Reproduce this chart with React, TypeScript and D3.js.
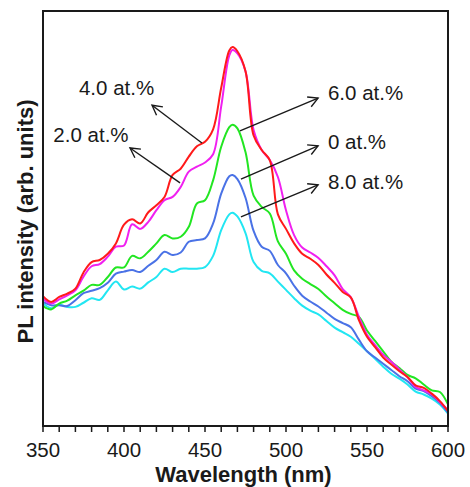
import React from "react";
import * as d3 from "d3";

const wavelengths = [350,355,360,365,370,375,380,385,390,395,400,405,410,415,420,425,430,435,440,445,450,455,460,465,467,470,475,480,485,490,495,500,505,510,515,520,525,530,535,540,545,550,555,560,565,570,575,580,585,590,595,600];

const s0 = [29.9,29.1,29.1,28.9,30.3,32,32.6,33.2,34.5,36.7,37.2,37.6,37.1,38.6,40,42,41.2,41.8,44.4,44.8,45.2,48.8,56,60.2,60.5,59.5,55,47,43.2,42.2,38.8,36.8,33.8,31.4,30,28.8,27.3,25.8,24.8,23.8,20.8,18,16.5,15,13.5,12,10.8,9,8.4,7.2,5.6,3.2];
const s2 = [30.7,29.5,30.5,31.5,32.7,36,38.5,39,40.8,43.2,43.5,48.6,47.5,49.2,52,54.4,55.2,57.6,61.3,62.5,63.5,65.5,77,89.3,90.6,89.8,85.5,71.3,66.5,64.1,60,52,46,43,41.8,40.5,38.5,36.3,33,31,26.3,22,19.5,17.2,15.5,13.6,11.8,9.4,8.6,7.6,5.8,3.8];
const s4 = [31.3,29.9,31.1,31.9,33.1,37,39.5,40,41.5,44,48.5,49.8,48.8,51.5,53.2,55.2,60.5,62,64.9,67.4,68.5,71.5,81.5,90.5,91.3,90.3,85.5,70,66.5,64,51,47.5,44,41.5,40.3,38.8,36.5,34.5,32.3,31,25.5,21.5,19,16.5,14.8,13.2,11.8,9.8,9.2,7.8,6,3.6];
const s6 = [28.9,28.1,29.5,30.2,31.5,32.6,34,34,35.9,38.2,38.2,41,40.4,42,44,46,45.2,45.6,48,53.6,54.4,59.2,67.3,72,72.6,71.7,66,55.5,52.8,51.2,44.5,41.5,37.5,35.5,34.2,33,31.2,29.6,28,27,26.3,23,20.5,18,15.5,14,12.3,11.5,10,8.6,8.2,5.2];
const s8 = [29.5,28.4,29.2,28.7,28.7,29.7,30.8,30.4,32.7,34.8,32.9,33.6,33.1,34.6,35.9,37.9,37.1,37.9,37.9,37.9,38.3,41,47.2,51,51.4,50.5,46.5,39.5,37.4,36.8,34.8,32.8,30.8,29,27.8,26.9,25.3,23.7,22.6,21.5,19.8,18,16.2,14.3,12.6,11.4,10,8.3,7.6,6.6,5.2,3];

const seriesNames = ["8.0 at.%", "0 at.%", "6.0 at.%", "2.0 at.%", "4.0 at.%"];
const seriesValues = [s8, s0, s6, s2, s4];
const seriesColors = ["#22e6f2", "#4a72e6", "#22e622", "#f020f0", "#ff1a1a"];

// annotation: label, text anchor (nm, value), arrow tail (nm, value), arrow head (nm, value)
const annoLabels = ["4.0 at.%", "2.0 at.%", "6.0 at.%", "0 at.%", "8.0 at.%"];
const annoText = [[372.2, 79.8], [356.4, 68.4], [525.9, 78.6], [525.9, 66.8], [525.9, 57.2]];
const annoTail = [[448.1, 68.2], [434.6, 58.6], [471.6, 71.1], [472.2, 59.5], [472.2, 50.4]];
const annoHead = [[417.3, 77.3], [403.7, 67.0], [519.8, 79.0], [519.8, 67.5], [519.8, 58.1]];

const xTicks = d3.range(350, 601, 10);
const xLabels = [350, 400, 450, 500, 550, 600];

export default function App() {
  const W = 470, H = 487;
  const left = 43, right = 448, top = 11, bottom = 426;
  const x = d3.scaleLinear().domain([350, 600]).range([left, right]);
  const y = d3.scaleLinear().domain([0, 100]).range([bottom, top]);
  const line = d3.line<number>()
    .x((_, i) => x(wavelengths[i]))
    .y((d) => y(d))
    .curve(d3.curveCatmullRom.alpha(0.5));
  const font = "'Liberation Sans', Arial, sans-serif";
  const ink = "#1a1a1a";

  const arrowHead = (tx: number, ty: number, hx: number, hy: number) => {
    const ang = Math.atan2(hy - ty, hx - tx);
    const L = 11, a = 0.5;
    const p1 = [hx - L * Math.cos(ang - a), hy - L * Math.sin(ang - a)];
    const p2 = [hx - L * Math.cos(ang + a), hy - L * Math.sin(ang + a)];
    return `M${p1[0]},${p1[1]}L${hx},${hy}L${p2[0]},${p2[1]}`;
  };

  return (
    <svg width={W} height={H} style={{ position: "absolute", left: 0, top: 0, background: "#fff" }} fontFamily={font}>
      <rect x={0} y={0} width={W} height={H} fill="#fff" />
      <defs>
        <clipPath id="plotclip">
          <rect x={left} y={top} width={right - left} height={bottom - top} />
        </clipPath>
      </defs>
      <g clipPath="url(#plotclip)">
        {seriesValues.map((vals, i) => (
          <path key={seriesNames[i]} d={line(vals) || ""} fill="none" stroke={seriesColors[i]} strokeWidth={2} strokeLinejoin="round" />
        ))}
      </g>
      {annoLabels.map((lab, i) => {
        const tx = x(annoTail[i][0]), ty = y(annoTail[i][1]);
        const hx = x(annoHead[i][0]), hy = y(annoHead[i][1]);
        return (
          <g key={lab}>
            <line x1={tx} y1={ty} x2={hx} y2={hy} stroke={ink} strokeWidth={1.4} />
            <path d={arrowHead(tx, ty, hx, hy)} fill="none" stroke={ink} strokeWidth={1.4} />
            <text x={x(annoText[i][0])} y={y(annoText[i][1])} fontSize={20.5} fill={ink}>{lab}</text>
          </g>
        );
      })}
      <rect x={left} y={top} width={right - left} height={bottom - top} fill="none" stroke={ink} strokeWidth={2} />
      {xTicks.map((t) => (
        <line key={t} x1={x(t)} x2={x(t)} y1={bottom} y2={bottom + 6} stroke={ink} strokeWidth={1.5} />
      ))}
      {xLabels.map((t) => (
        <text key={t} x={x(t)} y={457} textAnchor="middle" fontSize={20.5} fill={ink}>{t}</text>
      ))}
      <text x={(left + right) / 2 - 2} y={482} textAnchor="middle" fontSize={22} fontWeight="bold" fill={ink}>Wavelength (nm)</text>
      <text transform={`translate(33,${(top + bottom) / 2 + 3}) rotate(-90)`} textAnchor="middle" fontSize={22} fontWeight="bold" fill={ink}>PL intensity (arb. units)</text>
    </svg>
  );
}
